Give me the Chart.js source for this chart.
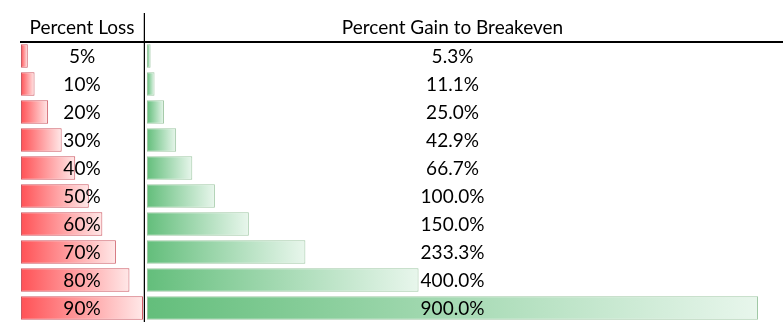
<!DOCTYPE html>
<html>
<head>
<meta charset="utf-8">
<script src="https://cdn.jsdelivr.net/npm/chart.js@4.4.1/dist/chart.umd.min.js"></script>
<style>
  html, body { margin: 0; padding: 0; background: #fff; }
  #wrap { position: relative; width: 783px; height: 334px; }
  #lossChart { position: absolute; left: 0; top: 0; }
  #gainChart { position: absolute; left: 145px; top: 0; }
</style>
</head>
<body>
<div id="wrap">
  <canvas id="lossChart" width="145" height="334"></canvas>
  <canvas id="gainChart" width="638" height="334"></canvas>
</div>
<script>
// data
const lossLabels = ['5%', '10%', '20%', '30%', '40%', '50%', '60%', '70%', '80%', '90%'];
const lossValues = [5, 10, 20, 30, 40, 50, 60, 70, 80, 90];
const gainValues = [5.3, 11.1, 25.0, 42.9, 66.7, 100.0, 150.0, 233.3, 400.0, 900.0];
const gainLabels = ['5.3%', '11.1%', '25.0%', '42.9%', '66.7%', '100.0%', '150.0%', '233.3%', '400.0%', '900.0%'];

const FONT = 'Lato, "Open Sans", sans-serif';

function barGradient(fromColor, toColor) {
    return function (context) {
        const chart = context.chart;
        const x = chart.scales && chart.scales.x;
        if (!chart.chartArea || !x || context.dataIndex === undefined) return fromColor;
        const start = x.getPixelForValue(0);
        const end = x.getPixelForValue(context.raw);
        if (!isFinite(start) || !isFinite(end) || end - start < 1) return fromColor;
        const g = chart.ctx.createLinearGradient(start, 0, end, 0);
        g.addColorStop(0, fromColor);
        g.addColorStop(1, toColor);
        return g;
    };
}

// titles, centred labels and the divider lines
function panelPlugin(title, labels, drawDivider, lineFrom) {
    return {
        id: 'panel',
        afterDraw(chart) {
            const ctx = chart.ctx;
            const area = chart.chartArea;
            const cx = (area.left + area.right) / 2;
            ctx.save();
            ctx.fillStyle = '#000';
            ctx.textAlign = 'center';
            ctx.textBaseline = 'middle';
            ctx.font = '19px ' + FONT;
            ctx.fillText(title, cx, 28);
            const meta = chart.getDatasetMeta(0);
            meta.data.forEach((bar, i) => {
                ctx.fillText(labels[i], cx, bar.y + 1);
            });
            ctx.strokeStyle = '#000';
            ctx.lineWidth = 2;
            ctx.beginPath();
            ctx.moveTo(lineFrom, 42);
            ctx.lineTo(chart.width, 42);
            ctx.stroke();
            if (drawDivider) {
                ctx.lineWidth = 1.5;
                ctx.beginPath();
                ctx.moveTo(144.5, 13);
                ctx.lineTo(144.5, 322);
                ctx.stroke();
            }
            ctx.restore();
        }
    };
}

function createChart(id, values, max, colors, padding, plugin) {
    return new Chart(document.getElementById(id), {
        type: 'bar',
        data: {
            labels: lossLabels,
            datasets: [{
                data: values,
                backgroundColor: barGradient(colors[0], colors[1]),
                borderColor: colors[2],
                borderWidth: 1,
                borderSkipped: false,
                barPercentage: 0.84,
                categoryPercentage: 1
            }]
        },
        options: {
            indexAxis: 'y',
            responsive: false,
            animation: false,
            layout: { padding: padding },
            scales: {
                x: { display: false, min: 0, max: max },
                y: { display: false }
            },
            plugins: {
                legend: { display: false },
                tooltip: { enabled: false }
            }
        },
        plugins: [plugin]
    });
}

createChart('lossChart', lossValues, 90,
    ['rgb(255, 82, 86)', 'rgb(255, 232, 232)', 'rgb(205, 90, 100)'],
    { left: 21, right: 2, top: 42, bottom: 12 },
    panelPlugin('Percent Loss', lossLabels, true, 20));

createChart('gainChart', gainValues, 900,
    ['rgb(99, 190, 123)', 'rgb(232, 246, 236)', 'rgb(160, 200, 165)'],
    { left: 2, right: 25, top: 42, bottom: 12 },
    panelPlugin('Percent Gain to Breakeven', gainLabels, false, 0));
</script>
</body>
</html>
